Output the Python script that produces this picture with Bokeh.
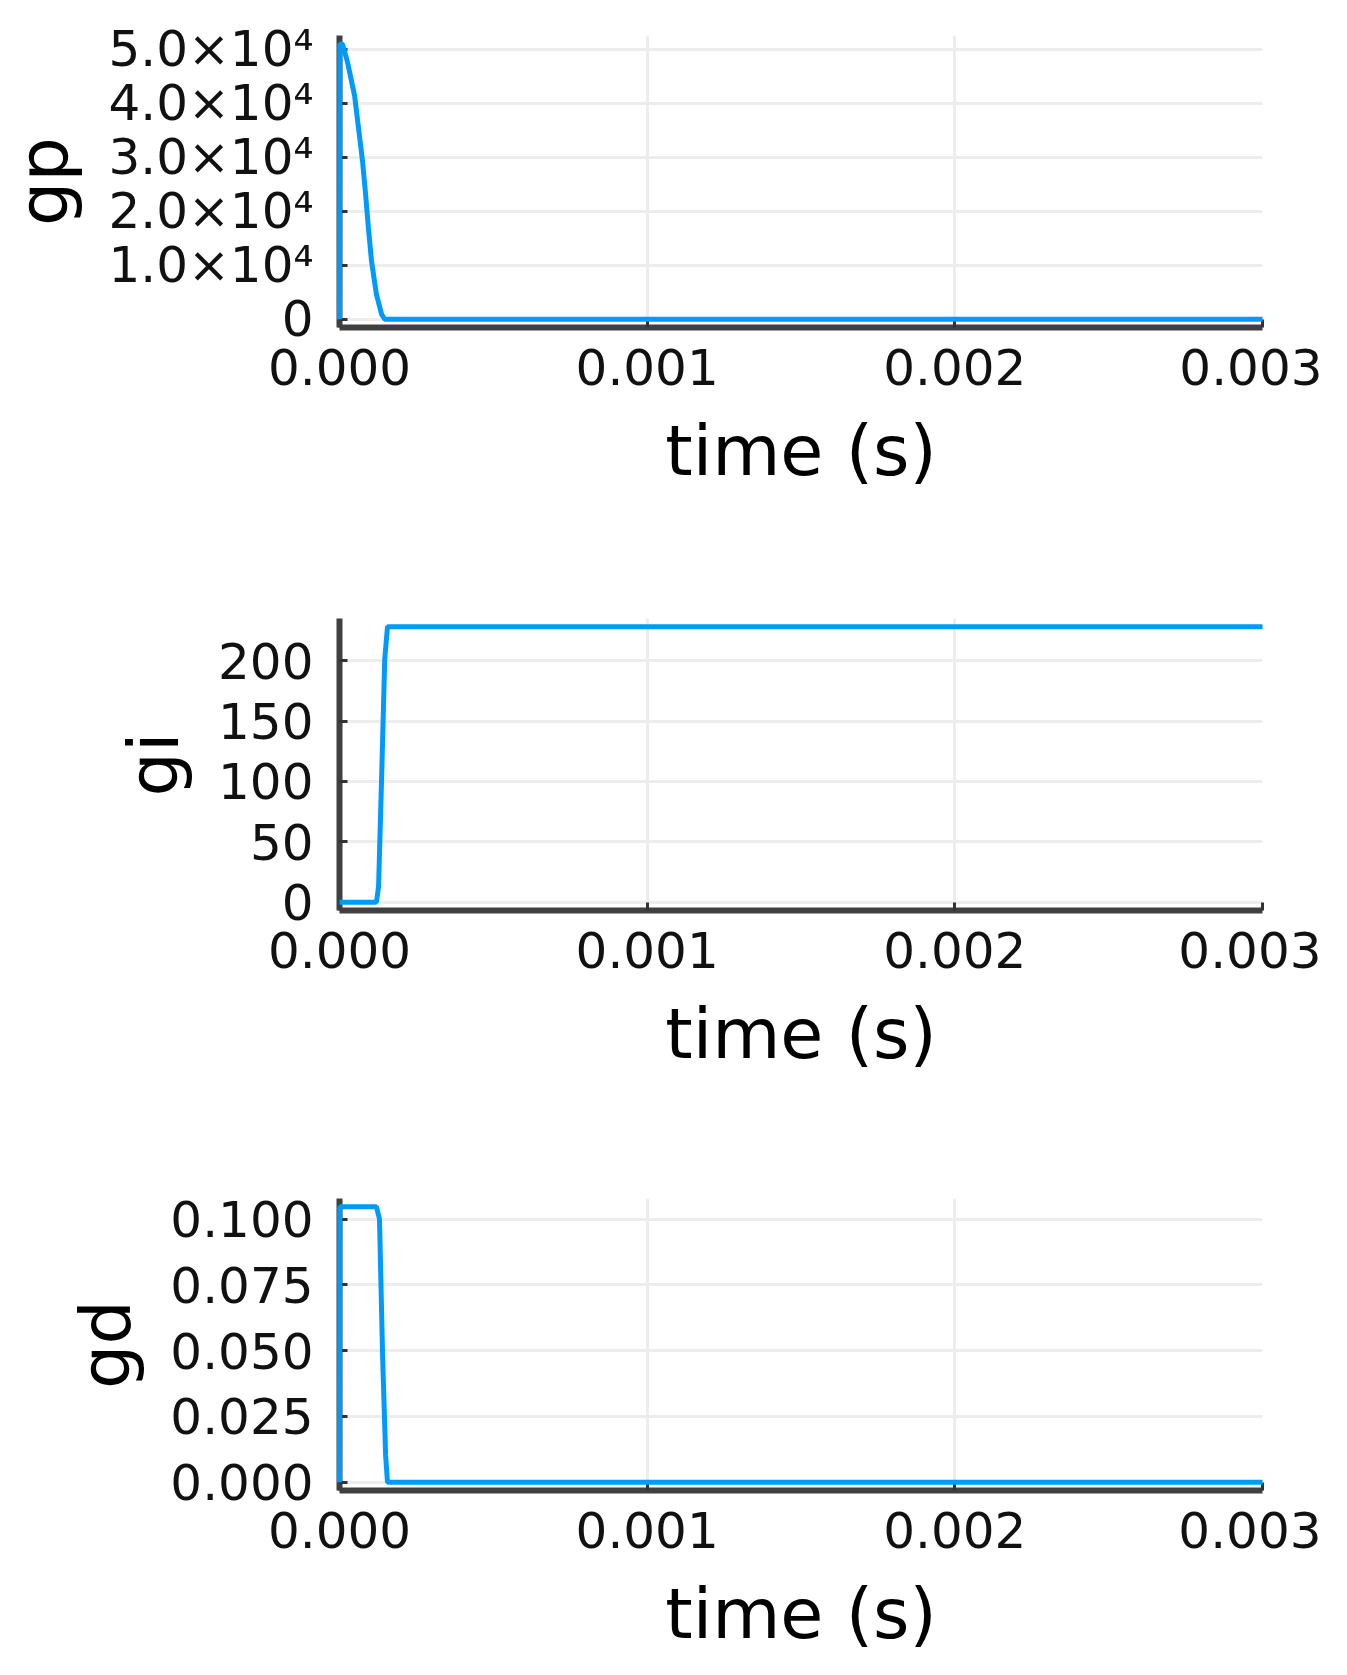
from bokeh.plotting import figure
from bokeh.layouts import column
from bokeh.models import FixedTicker, Range1d
from bokeh.embed import file_html
from bokeh.resources import INLINE

# ---- data ----
t_gp = [0.0, 0.000001, 0.000010, 0.000026, 0.000049, 0.000062, 0.000075,
        0.000085, 0.000094, 0.000104, 0.000120, 0.000137, 0.000147, 0.003]
gp = [0.0, 51000, 50900, 47600, 41400, 35300, 29200,
      23000, 16900, 10800, 4600, 900, 0.0, 0.0]

t_gi = [0.0, 0.000120, 0.000127, 0.000137, 0.000147, 0.000156, 0.003]
gi = [0.0, 0.0, 13.0, 104.0, 201.0, 228.0, 228.0]

t_gd = [0.0, 0.000001, 0.000120, 0.000130, 0.000140, 0.000150, 0.000156, 0.003]
gd = [0.0, 0.1047, 0.1047, 0.100, 0.0485, 0.010, 0.0, 0.0]

x_ticks = [0.0, 0.001, 0.002, 0.003]
x_tick_labels = ["0.000", "0.001", "0.002", "0.003"]

gp_ticks = [0, 10000, 20000, 30000, 40000, 50000]
gp_tick_labels = ["0", "1.0×10⁴", "2.0×10⁴", "3.0×10⁴", "4.0×10⁴", "5.0×10⁴"]

gi_ticks = [0, 50, 100, 150, 200]
gi_tick_labels = ["0", "50", "100", "150", "200"]

gd_ticks = [0.0, 0.025, 0.05, 0.075, 0.1]
gd_tick_labels = ["0.000", "0.025", "0.050", "0.075", "0.100"]

x_label = "time (s)"

LINE = "#009AFA"
FONT = "DejaVu Sans"


def panel(t, y, ylabel, yticks, ylabels, border_top, border_bottom):
    lo, hi = min(y), max(y)
    pad = 0.03 * (hi - lo)
    p = figure(frame_width=923, frame_height=292,
               min_border_top=border_top, min_border_bottom=border_bottom,
               min_border_left=338, min_border_right=60,
               x_range=Range1d(0.0, 0.003), y_range=Range1d(lo - pad, hi + pad),
               output_backend="svg", toolbar_location=None,
               background_fill_color="white", border_fill_color="white")
    p.outline_line_color = None
    p.line(t, y, line_color=LINE, line_width=5, level="overlay")

    p.xaxis.ticker = FixedTicker(ticks=x_ticks)
    p.xaxis.major_label_overrides = {v: s for v, s in zip(x_ticks, x_tick_labels)}
    p.yaxis.ticker = FixedTicker(ticks=yticks)
    p.yaxis.major_label_overrides = {v: s for v, s in zip(yticks, ylabels)}
    p.xaxis.axis_label = x_label
    p.yaxis.axis_label = ylabel

    for ax in p.axis:
        ax.axis_line_color = "#404040"
        ax.axis_line_width = 6
        ax.major_tick_in = 8
        ax.major_tick_out = 0
        ax.major_tick_line_width = 3
        ax.major_tick_line_color = "#333333"
        ax.minor_tick_in = 0
        ax.minor_tick_out = 0
        ax.major_label_text_font = FONT
        ax.major_label_text_font_size = "50px"
        ax.major_label_text_color = "#111111"
        ax.axis_label_text_font = FONT
        ax.axis_label_text_font_size = "70px"
        ax.axis_label_text_font_style = "normal"
        ax.axis_label_text_color = "#000000"
    p.xaxis.major_label_standoff = 21
    p.xaxis.axis_label_standoff = 22
    p.yaxis.major_label_standoff = 26
    p.yaxis.axis_label_standoff = 20

    p.grid.grid_line_color = "#ededed"
    p.grid.grid_line_width = 3
    return p


p1 = panel(t_gp, gp, "gp", gp_ticks, gp_tick_labels, 35, 262)
p2 = panel(t_gi, gi, "gi", gi_ticks, gi_tick_labels, 29, 259)
p3 = panel(t_gd, gd, "gd", gd_ticks, gd_tick_labels, 29, 164)

layout = column(p1, p2, p3, spacing=0)
open("out.html", "w").write(file_html(layout, INLINE))
